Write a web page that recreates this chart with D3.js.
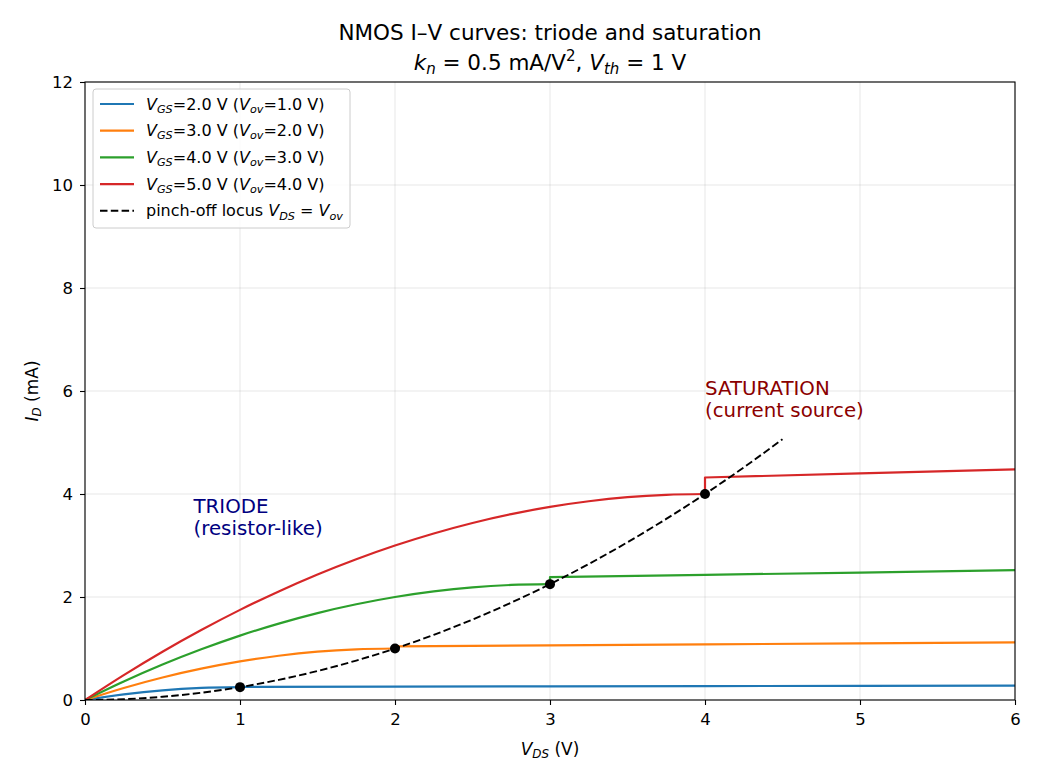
<!DOCTYPE html>
<html><head><meta charset="utf-8">
<script src="https://cdn.jsdelivr.net/npm/d3@7"></script>
<style>body{margin:0;background:#fff;} svg{font-family:"DejaVu Sans",sans-serif;}</style>
</head><body>
<svg id="chart" width="1040" height="780"></svg>
<script>
// ---- data ----
const seriesColors = ["#1f77b4", "#ff7f0e", "#2ca02c", "#d62728"];
const vgsValues = [2.0, 3.0, 4.0, 5.0];
const vovValues = [1.0, 2.0, 3.0, 4.0];
const triodeX = [
  [0, 0.25, 0.5, 0.75, 1.0],
  [0, 0.25, 0.5, 0.75, 1.0, 1.25, 1.5, 1.75, 2.0],
  [0, 0.25, 0.5, 0.75, 1.0, 1.25, 1.5, 1.75, 2.0, 2.25, 2.5, 2.75, 3.0],
  [0, 0.25, 0.5, 0.75, 1.0, 1.25, 1.5, 1.75, 2.0, 2.25, 2.5, 2.75, 3.0, 3.25, 3.5, 3.75, 4.0]
];
const triodeY = [
  [0, 0.109, 0.188, 0.234, 0.25],
  [0, 0.234, 0.438, 0.609, 0.75, 0.859, 0.938, 0.984, 1.0],
  [0, 0.359, 0.688, 0.984, 1.25, 1.484, 1.688, 1.859, 2.0, 2.109, 2.188, 2.234, 2.25],
  [0, 0.484, 0.938, 1.359, 1.75, 2.109, 2.438, 2.734, 3.0, 3.234, 3.438, 3.609, 3.75, 3.859, 3.938, 3.984, 4.0]
];
const satX = [
  [1, 2, 3, 4, 5, 6],
  [2, 3, 4, 5, 6],
  [3, 4, 5, 6],
  [4, 5, 6]
];
const satY = [
  [0.255, 0.26, 0.265, 0.27, 0.275, 0.28],
  [1.04, 1.06, 1.08, 1.10, 1.12],
  [2.385, 2.43, 2.475, 2.52],
  [4.32, 4.40, 4.48]
];
const pinchX = [0, 0.25, 0.5, 0.75, 1.0, 1.25, 1.5, 1.75, 2.0, 2.25, 2.5, 2.75, 3.0, 3.25, 3.5, 3.75, 4.0, 4.25, 4.5];
const pinchY = [0, 0.016, 0.063, 0.141, 0.25, 0.391, 0.563, 0.766, 1.0, 1.266, 1.563, 1.891, 2.25, 2.641, 3.063, 3.516, 4.0, 4.516, 5.063];
const markerX = [1, 2, 3, 4];
const markerY = [0.25, 1.0, 2.25, 4.0];
const xTicks = [0, 1, 2, 3, 4, 5, 6];
const yTicks = [0, 2, 4, 6, 8, 10, 12];

// ---- layout ----
const svg = d3.select("#chart");
const L = 85, R = 1015, T = 82, B = 700;
const x = d3.scaleLinear().domain([0, 6]).range([L, R]);
const y = d3.scaleLinear().domain([0, 12]).range([B, T]);

// mathtext helper
function mtext(sel, parts, fs) {
  let off = 0;
  parts.forEach(([t, it, pos]) => {
    let target = 0, size = fs;
    if (pos === "sub") { target = 0.2 * fs; size = fs * 0.7; }
    if (pos === "sup") { target = -0.4 * fs; size = fs * 0.7; }
    sel.append("tspan").attr("dy", target - off).attr("font-size", size)
      .attr("font-style", it ? "italic" : "normal").text(t);
    off = target;
  });
}

// grid
const g = svg.append("g");
g.selectAll(".gx").data(xTicks).enter().append("line")
  .attr("x1", d => x(d)).attr("x2", d => x(d)).attr("y1", T).attr("y2", B)
  .attr("stroke", "#b0b0b0").attr("stroke-opacity", 0.3).attr("stroke-width", 1);
g.selectAll(".gy").data(yTicks).enter().append("line")
  .attr("y1", d => y(d)).attr("y2", d => y(d)).attr("x1", L).attr("x2", R)
  .attr("stroke", "#b0b0b0").attr("stroke-opacity", 0.3).attr("stroke-width", 1);

// curves
svg.append("clipPath").attr("id", "clip").append("rect")
  .attr("x", L).attr("y", T).attr("width", R - L).attr("height", B - T);
const plot = svg.append("g").attr("clip-path", "url(#clip)");
const smooth = d3.line().x(d => x(d[0])).y(d => y(d[1])).curve(d3.curveMonotoneX);
const straight = d3.line().x(d => x(d[0])).y(d => y(d[1]));
vovValues.forEach((v, i) => {
  const tri = triodeX[i].map((xx, j) => [xx, triodeY[i][j]]);
  const sat = [tri[tri.length - 1]].concat(satX[i].map((xx, j) => [xx, satY[i][j]]));
  plot.append("path").attr("d", smooth(tri)).attr("fill", "none")
    .attr("stroke", seriesColors[i]).attr("stroke-width", 2.2).attr("stroke-linejoin", "round");
  plot.append("path").attr("d", straight(sat)).attr("fill", "none")
    .attr("stroke", seriesColors[i]).attr("stroke-width", 2.2).attr("stroke-linejoin", "round");
});
plot.append("path").attr("d", smooth(pinchX.map((xx, j) => [xx, pinchY[j]])))
  .attr("fill", "none").attr("stroke", "#000").attr("stroke-width", 1.9)
  .attr("stroke-dasharray", "7.5,3.3");
plot.selectAll(".dot").data(markerX).enter().append("circle")
  .attr("cx", d => x(d)).attr("cy", (d, i) => y(markerY[i])).attr("r", 5).attr("fill", "#000");

// axes
const xAxis = svg.append("g").attr("transform", `translate(0,${B})`)
  .call(d3.axisBottom(x).tickValues(xTicks).tickFormat(d3.format("d")).tickSizeOuter(0).tickSize(5).tickPadding(8));
const yAxis = svg.append("g").attr("transform", `translate(${L},0)`)
  .call(d3.axisLeft(y).tickValues(yTicks).tickFormat(d3.format("d")).tickSizeOuter(0).tickSize(5).tickPadding(7));
[xAxis, yAxis].forEach(a => {
  a.select(".domain").remove();
  a.selectAll("text").attr("font-size", 16.5).attr("fill", "#000").attr("font-family", "DejaVu Sans");
  a.selectAll("line").attr("stroke", "#000").attr("stroke-width", 1.1);
});
svg.append("rect").attr("x", L).attr("y", T).attr("width", R - L).attr("height", B - T)
  .attr("fill", "none").attr("stroke", "#000").attr("stroke-width", 1.1);

// axis labels
const xl = svg.append("text").attr("x", x(3)).attr("y", 755).attr("text-anchor", "middle").attr("font-size", 17);
mtext(xl, [["V", true], ["DS", true, "sub"], [" (V)", false]], 17);
const yl = svg.append("text").attr("transform", `translate(38,${y(6)}) rotate(-90)`).attr("text-anchor", "middle").attr("font-size", 17);
mtext(yl, [["I", true], ["D", true, "sub"], [" (mA)", false]], 17);

// title
svg.append("text").attr("x", 550).attr("y", 40).attr("text-anchor", "middle").attr("font-size", 21.5)
  .text("NMOS I–V curves: triode and saturation");
const t2 = svg.append("text").attr("x", 550).attr("y", 70).attr("text-anchor", "middle").attr("font-size", 21.5);
mtext(t2, [["k", true], ["n", true, "sub"], [" = 0.5 mA/V", false], ["2", false, "sup"], [", ", false], ["V", true], ["th", true, "sub"], [" = 1 V", false]], 21.5);

// annotations
const a1 = svg.append("text").attr("fill", "#000080").attr("font-size", 19.8);
a1.append("tspan").attr("x", x(0.7)).attr("y", 513).text("TRIODE");
a1.append("tspan").attr("x", x(0.7)).attr("y", 535).text("(resistor-like)");
const a2 = svg.append("text").attr("fill", "#8b0000").attr("font-size", 19.8);
a2.append("tspan").attr("x", x(4.0)).attr("y", 395).text("SATURATION");
a2.append("tspan").attr("x", x(4.0)).attr("y", 417).text("(current source)");

// legend
const lg = svg.append("g");
lg.append("rect").attr("x", 93).attr("y", 89).attr("width", 257).attr("height", 139).attr("rx", 3)
  .attr("fill", "#fff").attr("fill-opacity", 0.8).attr("stroke", "#cccccc").attr("stroke-width", 1);
const fsL = 16;
vovValues.forEach((v, i) => {
  const ry = 104 + i * 26.7;
  lg.append("line").attr("x1", 100).attr("x2", 134).attr("y1", ry).attr("y2", ry)
    .attr("stroke", seriesColors[i]).attr("stroke-width", 2.2);
  const tx = lg.append("text").attr("x", 146).attr("y", ry + 5.5).attr("font-size", fsL);
  mtext(tx, [["V", true], ["GS", true, "sub"], ["=" + vgsValues[i].toFixed(1) + " V (", false], ["V", true], ["ov", true, "sub"], ["=" + v.toFixed(1) + " V)", false]], fsL);
});
const ry5 = 104 + 4 * 26.7;
lg.append("line").attr("x1", 100).attr("x2", 134).attr("y1", ry5).attr("y2", ry5)
  .attr("stroke", "#000").attr("stroke-width", 1.9).attr("stroke-dasharray", "7.5,3.3");
const t5 = lg.append("text").attr("x", 146).attr("y", ry5 + 5.5).attr("font-size", fsL);
mtext(t5, [["pinch-off locus ", false], ["V", true], ["DS", true, "sub"], [" = ", false], ["V", true], ["ov", true, "sub"]], fsL);
</script>
</body></html>
